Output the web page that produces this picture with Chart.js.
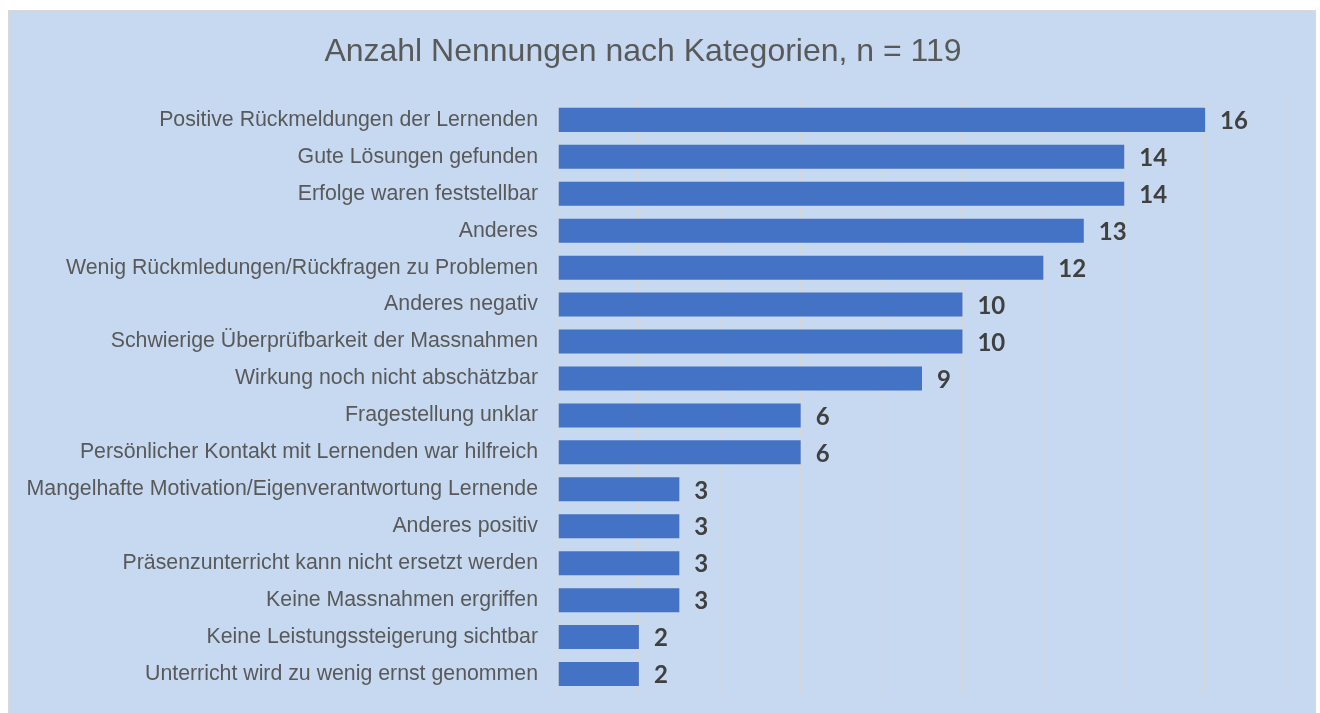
<!DOCTYPE html>
<html lang="de">
<head>
<meta charset="UTF-8">
<title>Anzahl Nennungen nach Kategorien</title>
<script src="https://cdn.jsdelivr.net/npm/chart.js"></script>
<style>
  html, body { margin: 0; padding: 0; background: #ffffff; }
  .panel {
    position: absolute; left: 8px; top: 10px; width: 1306px; height: 703px;
    background: #c6d9f0; border: 1px solid #d9d9d9; border-bottom: none;
  }
  .chart-box { position: absolute; left: 0; top: 0; width: 1320px; height: 713px; }
</style>
</head>
<body>
<div class="panel"></div>
<div class="chart-box"><canvas id="barChart"></canvas></div>
<script>
// Daten
const categories = [
  "Positive Rückmeldungen der Lernenden",
  "Gute Lösungen gefunden",
  "Erfolge waren feststellbar",
  "Anderes",
  "Wenig Rückmledungen/Rückfragen zu Problemen",
  "Anderes negativ",
  "Schwierige Überprüfbarkeit der Massnahmen",
  "Wirkung noch nicht abschätzbar",
  "Fragestellung unklar",
  "Persönlicher Kontakt mit Lernenden war hilfreich",
  "Mangelhafte Motivation/Eigenverantwortung Lernende",
  "Anderes positiv",
  "Präsenzunterricht kann nicht ersetzt werden",
  "Keine Massnahmen ergriffen",
  "Keine Leistungssteigerung sichtbar",
  "Unterricht wird zu wenig ernst genommen"
];
const counts = [16, 14, 14, 13, 12, 10, 10, 9, 6, 6, 3, 3, 3, 3, 2, 2];
const chartTitle = "Anzahl Nennungen nach Kategorien, n = 119";

// Werte rechts neben den Balken
const valueLabels = {
  id: "valueLabels",
  afterDatasetsDraw(chart) {
    const ctx = chart.ctx;
    const meta = chart.getDatasetMeta(0);
    ctx.save();
    ctx.font = "bold 24px Lato";
    ctx.fillStyle = "#404040";
    ctx.textAlign = "left";
    ctx.textBaseline = "middle";
    meta.data.forEach((bar, i) => {
      ctx.fillText(String(counts[i]), bar.x + 15, bar.y + 1.5);
    });
    ctx.restore();
  }
};

const ctx = document.getElementById("barChart").getContext("2d");
new Chart(ctx, {
  type: "bar",
  data: {
    labels: categories,
    datasets: [{
      data: counts,
      backgroundColor: "#4472c4",
      borderWidth: 0,
      barPercentage: 0.65,
      categoryPercentage: 1.0
    }]
  },
  options: {
    indexAxis: "y",
    responsive: true,
    maintainAspectRatio: false,
    animation: false,
    layout: { padding: { left: 0, right: 34, top: 0, bottom: 20.5 } },
    scales: {
      x: {
        min: 0, max: 18,
        ticks: { display: false, stepSize: 2, autoSkip: false },
        grid: { color: "#d6d6d6", lineWidth: 1.5, drawTicks: false },
        border: { display: false }
      },
      y: {
        afterFit(scale) {
          scale.width = 558;
          scale.paddingTop = 0;
          scale.paddingBottom = 0;
        },
        ticks: {
          color: "#595959",
          font: { family: "Liberation Sans", size: 21.3 },
          padding: 20,
          autoSkip: false
        },
        grid: { display: false, drawTicks: false },
        border: { display: false }
      }
    },
    plugins: {
      legend: { display: false },
      tooltip: { enabled: false },
      title: {
        display: true,
        text: chartTitle,
        color: "#595959",
        font: { family: "Liberation Sans", size: 32, weight: "normal", lineHeight: 1.2 },
        padding: { top: 33, bottom: 30 }
      }
    }
  },
  plugins: [valueLabels]
});
</script>
</body>
</html>
